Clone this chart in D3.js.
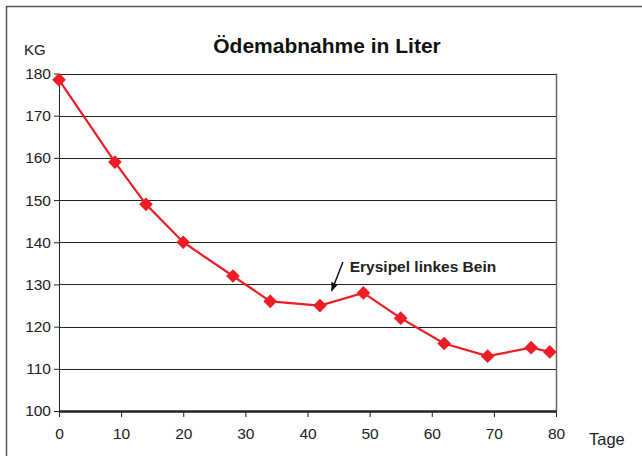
<!DOCTYPE html>
<html>
<head>
<meta charset="utf-8">
<script src="https://cdn.jsdelivr.net/npm/d3@7"></script>
<style>
body { margin: 0; background: #fff; }
svg { font-family: "Liberation Sans", Arial, sans-serif; }
</style>
</head>
<body>
<svg id="chart" width="642" height="456"></svg>
<script>
var tage = [0, 9, 14, 20, 28, 34, 42, 49, 55, 62, 69, 76, 79];
var kg = [178.5, 159, 149, 140, 132, 126, 125, 128, 122, 116, 113, 115, 114];
var yTicks = [100, 110, 120, 130, 140, 150, 160, 170, 180];
var xTicks = [0, 10, 20, 30, 40, 50, 60, 70, 80];

var svg = d3.select("#chart");
var red = "#ee1c24";

// outer frame
svg.append("rect")
    .attr("x", 6.5).attr("y", 6.5)
    .attr("width", 660).attr("height", 460)
    .attr("fill", "none").attr("stroke", "#555").attr("stroke-width", 1.5);

var x = d3.scaleLinear().domain([0, 80]).range([59, 556]);
var y = d3.scaleLinear().domain([100, 180]).range([411, 73.5]);

// grid lines
svg.append("g")
    .selectAll("line")
    .data(yTicks.slice(1))
    .enter().append("line")
    .attr("x1", x(0)).attr("x2", x(80))
    .attr("y1", function(d) { return Math.round(y(d)) + 0.5; })
    .attr("y2", function(d) { return Math.round(y(d)) + 0.5; })
    .attr("stroke", "#222").attr("stroke-width", 1.2);

// right border of plot
svg.append("line")
    .attr("x1", x(80) + 0.5).attr("x2", x(80) + 0.5)
    .attr("y1", y(180)).attr("y2", y(100))
    .attr("stroke", "#666").attr("stroke-width", 1.5);

var yAxis = svg.append("g")
    .attr("transform", "translate(" + x(0) + ",0)")
    .call(d3.axisLeft(y).tickValues(yTicks).tickSize(5).tickSizeOuter(0).tickPadding(3));
yAxis.selectAll("text").attr("font-size", 15.5).attr("fill", "#222");

var xAxis = svg.append("g")
    .attr("transform", "translate(0," + y(100) + ")")
    .call(d3.axisBottom(x).tickValues(xTicks).tickSize(6).tickSizeOuter(0).tickPadding(11));
xAxis.selectAll("text").attr("font-size", 15.5).attr("fill", "#222");
xAxis.select(".domain").attr("stroke-width", 2.5);

[yAxis, xAxis].forEach(function(a) {
    a.select(".domain").attr("stroke", "#222");
    a.selectAll(".tick line").attr("stroke", "#222");
    a.attr("font-family", null);
});

// data line
var line = d3.line()
    .x(function(d, i) { return x(tage[i]); })
    .y(function(d) { return y(d); });

svg.append("path")
    .datum(kg)
    .attr("d", line)
    .attr("fill", "none")
    .attr("stroke", red)
    .attr("stroke-width", 2.2);

svg.append("g")
    .selectAll("path")
    .data(kg)
    .enter().append("path")
    .attr("d", d3.symbol().type(d3.symbolDiamond2).size(120))
    .attr("transform", function(d, i) { return "translate(" + x(tage[i]) + "," + y(d) + ")"; })
    .attr("fill", red);

// texts
svg.append("text")
    .attr("x", 327).attr("y", 53)
    .attr("text-anchor", "middle")
    .attr("font-size", 21).attr("font-weight", "bold")
    .attr("fill", "#111")
    .text("Ödemabnahme in Liter");

svg.append("text")
    .attr("x", 24).attr("y", 55)
    .attr("font-size", 15).attr("fill", "#222")
    .text("KG");

svg.append("text")
    .attr("x", 589).attr("y", 445)
    .attr("font-size", 16.5).attr("fill", "#222")
    .text("Tage");

// annotation
svg.append("defs").append("marker")
    .attr("id", "arrow")
    .attr("viewBox", "0 0 10 10")
    .attr("refX", 9).attr("refY", 5)
    .attr("markerWidth", 6).attr("markerHeight", 6)
    .attr("orient", "auto")
    .append("path")
    .attr("d", "M0,1 L10,5 L0,9 z")
    .attr("fill", "#111");

svg.append("line")
    .attr("x1", x(45.7)).attr("y1", y(135.3))
    .attr("x2", x(43.9)).attr("y2", y(128.5))
    .attr("stroke", "#111").attr("stroke-width", 1.5)
    .attr("marker-end", "url(#arrow)");

svg.append("text")
    .attr("x", x(46.8)).attr("y", y(132.9))
    .attr("font-size", 15.5).attr("font-weight", "bold")
    .attr("fill", "#222")
    .text("Erysipel linkes Bein");
</script>
</body>
</html>
